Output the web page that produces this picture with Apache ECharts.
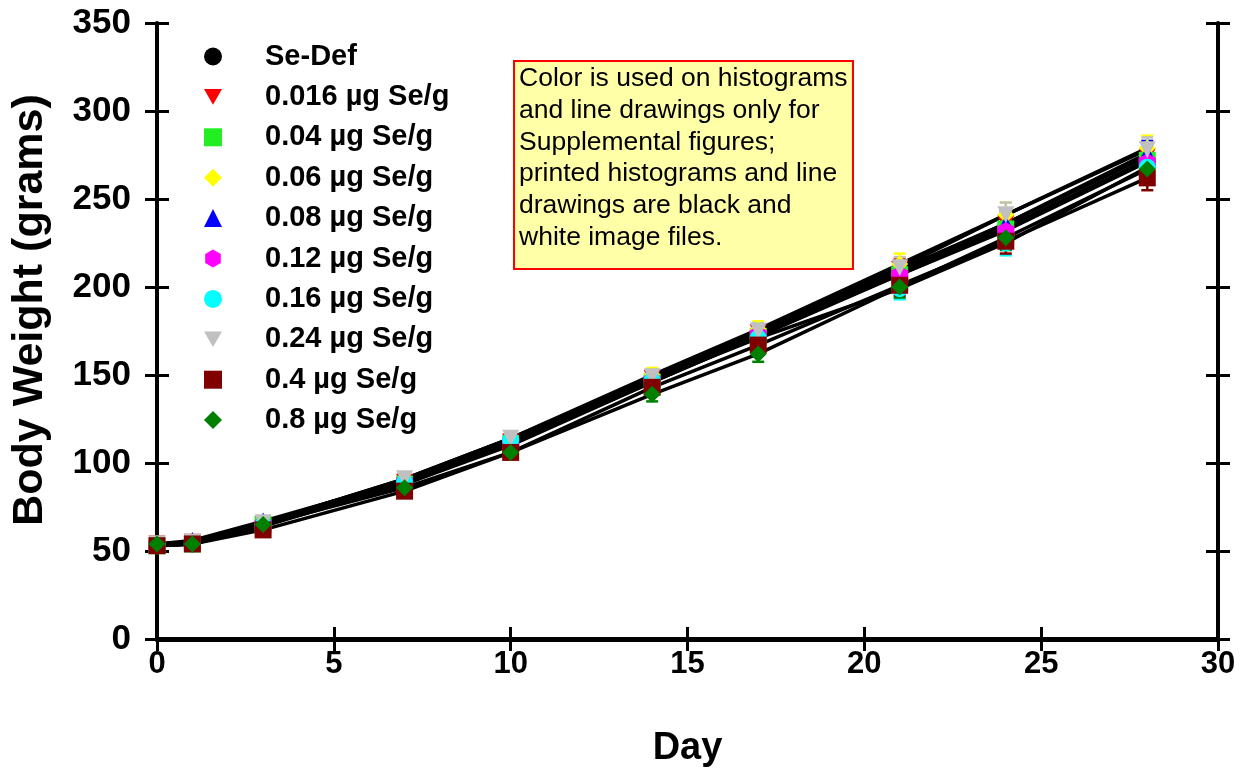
<!DOCTYPE html>
<html>
<head>
<meta charset="utf-8">
<title>Body Weight</title>
<script src="https://cdn.jsdelivr.net/npm/echarts@6/dist/echarts.min.js"></script>
<style>
  html, body { margin: 0; padding: 0; background: #fff; }
  #chart { width: 1248px; height: 771px; }
</style>
</head>
<body>
<div id="chart"></div>
<script>
// Days of measurement
const days = [0, 1, 3, 7, 10, 14, 17, 21, 24, 28];

// Mean body weight (grams) for each diet group
const seDef   = [53, 54, 64, 88, 110, 146, 172, 208, 234, 272];
const se0016  = [54, 55, 65, 89, 112, 148, 174, 210, 236, 274];
const se004   = [53, 54, 65, 88, 111, 146, 172, 207, 233, 272];
const se006   = [54, 55, 66, 91, 114, 150, 176, 213, 241, 279];
const se008   = [54, 56, 67, 90, 113, 148, 174, 209, 236, 276];
const se012   = [53, 54, 65, 89, 112, 147, 173, 207, 232, 271];
const se016   = [54, 54, 65, 89, 113, 147, 171, 199, 225, 268];
const se024   = [54, 55, 66, 91, 114, 149, 175, 211, 241, 278];
const se04    = [53, 54, 62, 84, 106, 143, 167, 201, 226, 262];
const se08    = [54, 54, 65, 86, 106, 139, 162, 200, 228, 267];

// approximate SEM at each day (error bar half length)
const semByDay = [1.5, 1.5, 2, 3, 3.5, 4, 4.5, 6, 7, 7];

const yTicks = [0, 50, 100, 150, 200, 250, 300, 350];
const xTicks = [0, 5, 10, 15, 20, 25, 30];

const hexagon = 'path://M50,0 L93.3,25 L93.3,75 L50,100 L6.7,75 L6.7,25 Z';
const downTri = 'path://M0,0 L100,0 L50,86.6 Z';
const rhomb   = 'path://M50,0 L100,50 L50,100 L0,50 Z';

const groups = [
    { name: 'Se-Def',             values: seDef,  color: '#000000', symbol: 'circle' },
    { name: '0.016 \u00b5g Se/g', values: se0016, color: '#ff0000', symbol: downTri },
    { name: '0.04 \u00b5g Se/g',  values: se004,  color: '#22ee22', symbol: 'rect' },
    { name: '0.06 \u00b5g Se/g',  values: se006,  color: '#ffff00', symbol: rhomb },
    { name: '0.08 \u00b5g Se/g',  values: se008,  color: '#0000ff', symbol: 'triangle' },
    { name: '0.12 \u00b5g Se/g',  values: se012,  color: '#ff00ff', symbol: hexagon },
    { name: '0.16 \u00b5g Se/g',  values: se016,  color: '#00ffff', symbol: 'circle' },
    { name: '0.24 \u00b5g Se/g',  values: se024,  color: '#c0c0c0', symbol: downTri },
    { name: '0.4 \u00b5g Se/g',   values: se04,   color: '#800000', symbol: 'rect' },
    { name: '0.8 \u00b5g Se/g',   values: se08,   color: '#008000', symbol: rhomb }
];

const FONT = 'Liberation Sans, Arial, sans-serif';

var dom = document.getElementById('chart');
var myChart = echarts.init(dom, null, { renderer: 'canvas' });

function errorBars(color) {
    return function (params, api) {
        var x = api.value(0), y = api.value(1), e = api.value(2);
        var top = api.coord([x, y + e]);
        var bot = api.coord([x, y - e]);
        var w = 6;
        var style = { stroke: color, lineWidth: 2.5 };
        return {
            type: 'group',
            children: [
                { type: 'line', shape: { x1: top[0], y1: top[1], x2: bot[0], y2: bot[1] }, style: style },
                { type: 'line', shape: { x1: top[0] - w, y1: top[1], x2: top[0] + w, y2: top[1] }, style: style },
                { type: 'line', shape: { x1: bot[0] - w, y1: bot[1], x2: bot[0] + w, y2: bot[1] }, style: style }
            ]
        };
    };
}

var series = [];
// black connecting lines first
groups.forEach(function (g) {
    series.push({
        type: 'line',
        name: g.name + ' line',
        data: days.map((d, i) => [d, g.values[i]]),
        showSymbol: false,
        lineStyle: { color: '#000', width: 3.5 },
        silent: true,
        z: 2
    });
});
// error bars
groups.forEach(function (g) {
    series.push({
        type: 'custom',
        name: g.name + ' err',
        data: days.map((d, i) => [d, g.values[i], semByDay[i]]),
        renderItem: errorBars(g.color),
        silent: true,
        z: 3
    });
});
// markers
groups.forEach(function (g) {
    series.push({
        type: 'scatter',
        name: g.name,
        data: days.map((d, i) => [d, g.values[i]]),
        symbol: g.symbol,
        symbolSize: 17,
        itemStyle: { color: g.color, opacity: 1 },
        z: 4
    });
});

var tickStyle = { color: '#000', width: 3 };

var option = {
    animation: false,
    backgroundColor: '#fff',
    grid: { left: 157, right: 30, top: 23, bottom: 132, outerBoundsMode: 'none' },
    legend: {
        orient: 'vertical',
        left: 199,
        top: 36,
        itemWidth: 18,
        itemHeight: 18,
        itemGap: 9.4,
        data: groups.map(g => ({ name: g.name, icon: g.symbol })),
        formatter: function (name) { return '{g|}' + name; },
        textStyle: {
            fontFamily: FONT,
            fontWeight: 'bold',
            fontSize: 29,
            color: '#000',
            lineHeight: 31,
            rich: { g: { width: 38, lineHeight: 31 } }
        }
    },
    xAxis: [
        {
            type: 'value', min: 0, max: 30, interval: 5, position: 'bottom',
            name: 'Day', nameLocation: 'middle', nameGap: 91,
            nameTextStyle: { fontFamily: FONT, fontWeight: 'bold', fontSize: 38, color: '#000' },
            axisLine: { onZero: false, lineStyle: { color: '#000', width: 5 } },
            axisTick: { inside: false, length: 12, lineStyle: tickStyle },
            axisLabel: { margin: 10, fontFamily: FONT, fontWeight: 'bold', fontSize: 31, color: '#000',
                         formatter: v => xTicks.indexOf(v) >= 0 ? String(v) : '' },
            splitLine: { show: false }
        },
        {
            type: 'value', min: 0, max: 30, interval: 5, position: 'bottom',
            axisLine: { show: false, onZero: false },
            axisTick: { inside: true, length: 12, lineStyle: tickStyle },
            axisLabel: { show: false },
            splitLine: { show: false }
        }
    ],
    yAxis: [
        {
            type: 'value', min: 0, max: 350, interval: 50, position: 'left',
            name: 'Body Weight (grams)', nameLocation: 'middle', nameGap: 105,
            nameTextStyle: { fontFamily: FONT, fontWeight: 'bold', fontSize: 43, color: '#000',
                             padding: [0, 0, 0, 42] },
            axisLine: { show: true, onZero: false, lineStyle: { color: '#000', width: 4 } },
            axisTick: { show: true, inside: false, length: 12, lineStyle: tickStyle },
            axisLabel: { margin: 26, fontFamily: FONT, fontWeight: 'bold', fontSize: 35, color: '#000',
                         formatter: v => yTicks.indexOf(v) >= 0 ? String(v) : '' },
            splitLine: { show: false }
        },
        {
            type: 'value', min: 0, max: 350, interval: 50, position: 'left',
            axisLine: { show: false, onZero: false },
            axisTick: { show: true, inside: true, length: 12, lineStyle: tickStyle },
            axisLabel: { show: false },
            splitLine: { show: false }
        },
        {
            type: 'value', min: 0, max: 350, interval: 50, position: 'right',
            axisLine: { show: true, onZero: false, lineStyle: { color: '#000', width: 4 } },
            axisTick: { show: true, inside: false, length: 12, lineStyle: tickStyle },
            axisLabel: { show: false },
            splitLine: { show: false }
        },
        {
            type: 'value', min: 0, max: 350, interval: 50, position: 'right',
            axisLine: { show: false, onZero: false },
            axisTick: { show: true, inside: true, length: 12, lineStyle: tickStyle },
            axisLabel: { show: false },
            splitLine: { show: false }
        }
    ],
    graphic: [
        {
            type: 'group',
            left: 513,
            top: 60,
            children: [
                {
                    type: 'rect',
                    shape: { x: 0, y: 0, width: 339, height: 208 },
                    style: { fill: '#ffffa8', stroke: '#ff0000', lineWidth: 2 }
                },
                {
                    type: 'text',
                    x: 5,
                    y: 2,
                    style: {
                        text: 'Color is used on histograms\nand line drawings only for\nSupplemental figures;\nprinted histograms and line\ndrawings are black and\nwhite image files.',
                        fontFamily: FONT,
                        fontSize: 26.5,
                        lineHeight: 31.7,
                        fill: '#000'
                    }
                }
            ]
        }
    ],
    series: series
};

myChart.setOption(option);
window.addEventListener('resize', myChart.resize);
</script>
</body>
</html>
